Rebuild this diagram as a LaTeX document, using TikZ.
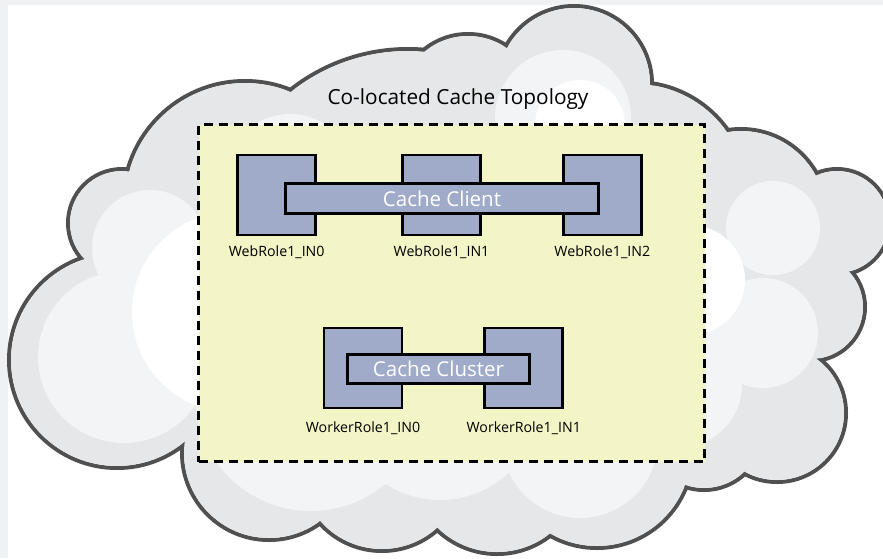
\documentclass[tikz,border=0pt]{standalone}
\usepackage{fontspec}
\setmainfont{Open Sans}
\usepackage{xcolor}
\usepackage{tikz}
\usetikzlibrary{positioning}
\definecolor{rolefill}{RGB}{160,170,201}
\definecolor{zonefill}{RGB}{243,245,198}
\definecolor{cloudfill}{RGB}{230,231,232}
\definecolor{cloudsoft}{RGB}{243,244,246}
\definecolor{cloudink}{RGB}{80,80,80}
\definecolor{bandgray}{RGB}{240,241,243}
\newcommand{\titlefont}{\fontsize{20.8}{24}\selectfont}
\newcommand{\barfont}{\fontsize{20.5}{24}\selectfont}
\newcommand{\labelfont}{\fontsize{14.2}{16}\selectfont}
% circles that make up the cloud: x/y/radius
\newcommand{\cloudcircles}{122/223/54, 245/203/122, 408/239/190, 468/104/70, 574/84/78, 635/196/114, 741/216/87, 837/222/53, 811/307/54, 777/413/69, 704/430/60, 597/452/96, 497/467/87, 382/467/84, 269/453/87, 117/360/108}
\tikzstyle{cloudedge} = [draw=cloudink, line width=4pt]
\tikzstyle{zone} = [rectangle, draw=black, line width=3pt, dash pattern=on 9pt off 6pt, fill=zonefill, minimum width=506pt, minimum height=337pt]
\tikzstyle{role} = [rectangle, draw=black, line width=2.8pt, fill=rolefill, minimum width=78pt, minimum height=80pt, inner sep=0pt]
\tikzstyle{cachebar} = [rectangle, draw=black, line width=2.8pt, fill=rolefill, text=white, font=\barfont, inner sep=0pt]
\tikzstyle{rolelabel} = [inner sep=0pt, font=\labelfont, text=black]

\begin{document}
\begin{tikzpicture}[x=1pt,y=-1pt]
  \useasboundingbox (0,0) rectangle (883,558);
  \fill[bandgray] (0,0) rectangle (883,558);
  \fill[white] (8,5) rectangle (883,558);
  % cloud: outline first, fill on top of it
  \foreach \cx/\cy/\r in \cloudcircles
    \draw[cloudedge] (\cx,\cy) circle[radius=\r];
  \fill[cloudfill, scale around={0.97:(470,300)}] (80,257) -- (123,170) -- (290,90) -- (430,50) -- (507,43) -- (652,83) -- (728,130) -- (818,175) -- (853,273) -- (822,360) -- (745,473) -- (687,487) -- (552,537) -- (441,530) -- (322,522) -- (182,445) -- cycle;
  \foreach \cx/\cy/\r in \cloudcircles
    \fill[cloudfill] (\cx,\cy) circle[radius=\r-2];
  \begin{scope}
    \clip (80,257) -- (123,170) -- (290,90) -- (430,50) -- (507,43) -- (652,83) -- (728,130) -- (818,175) -- (853,273) -- (822,360) -- (745,473) -- (687,487) -- (552,537) -- (441,530) -- (322,522) -- (182,445) -- cycle
      foreach \cx/\cy/\r in \cloudcircles {(\cx,\cy) circle[radius=\r-2]};
    \foreach \cx/\cy/\r in {124/357/86, 150/248/58, 290/180/66, 563/118/68, 773/228/47, 763/333/55, 680/385/62, 311/395/116, 440/400/100, 580/440/78}
      \fill[cloudsoft] (\cx,\cy) circle[radius=\r];
    \foreach \cx/\cy/\r in {232/312/100, 580/125/45, 690/280/55}
      \fill[white] (\cx,\cy) circle[radius=\r];
  \end{scope}

  \node (title) [anchor=base, font=\titlefont] at (458,104) {Co-located Cache Topology};
  \node (zone) [zone] at (451.5,293) {};

  % web role instances and the client
  \node (web1) [role] at (441.5,195) {};
  \node (web0) [role, left=84pt of web1] {};
  \node (web2) [role, right=80pt of web1] {};
  \node (client) [cachebar, minimum width=313pt, minimum height=30pt] at (442,198.5) {Cache Client};
  \node (web0lbl) [rolelabel, below=9pt of web0] {WebRole1\_IN0};
  \node (web1lbl) [rolelabel, below=9pt of web1] {WebRole1\_IN1};
  \node (web2lbl) [rolelabel, below=9pt of web2] {WebRole1\_IN2};

  % worker role instances and the cluster
  \node (work0) [role] at (363,368) {};
  \node (work1) [role, right=80pt of work0] {};
  \node (cluster) [cachebar, minimum width=182pt, minimum height=29pt] at (438.5,369) {Cache Cluster};
  \node (work0lbl) [rolelabel, below=12pt of work0] {WorkerRole1\_IN0};
  \node (work1lbl) [rolelabel, below=12pt of work1] {WorkerRole1\_IN1};
\end{tikzpicture}
\end{document}
